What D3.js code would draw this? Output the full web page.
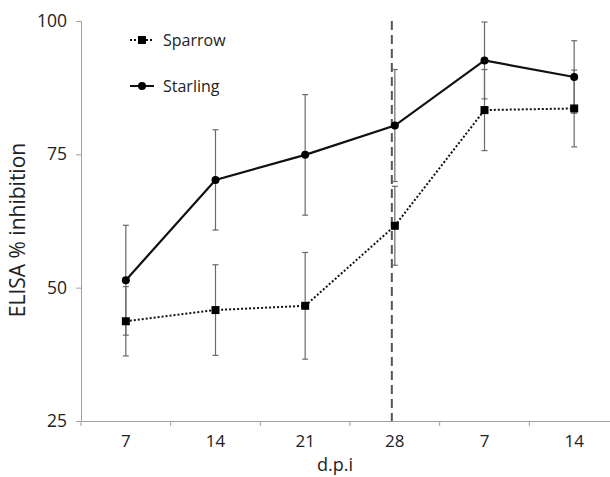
<!DOCTYPE html>
<html><head><meta charset="utf-8">
<script src="https://cdn.jsdelivr.net/npm/d3@7"></script>
<style>body{margin:0;background:#fff}text{font-family:"Open Sans",sans-serif}</style>
</head><body><svg id="c" width="610" height="477"></svg>
<script>
const categories = ["7","14","21","28","7","14"];
const sparrow = [43.7, 45.8, 46.6, 61.6, 83.3, 83.6];
const sparrowErr = [6.5, 8.5, 10.0, 7.4, 7.6, 7.2];
const starling = [51.4, 70.2, 74.9, 80.4, 92.6, 89.5];
const starlingErr = [10.3, 9.4, 11.3, 10.5, 7.2, 6.8];
const yTicks = [25, 50, 75, 100];
const markerIndex = 3; // dashed line at 28 d.p.i

const svg = d3.select("#c");
const m = {l:81, t:21, r:-9, b:56};
const W = 610 - m.l - m.r, H = 477 - m.t - m.b;
const g = svg.append("g").attr("transform",`translate(${m.l},${m.t})`);
const idx = categories.map((d,i)=>i);
const x = d3.scaleBand().domain(idx).range([0,W]);
const y = d3.scaleLinear().domain([25,100]).range([H,0]);
const cx = i => x(i) + x.bandwidth()/2;

// axes
const ya = g.append("g").call(d3.axisLeft(y).tickValues(yTicks).tickSize(5).tickPadding(9));
ya.select(".domain").attr("stroke","#a0a0a0");
ya.selectAll(".tick line").attr("stroke","#a0a0a0");
ya.selectAll("text").attr("font-size",17.5).attr("fill","#222");
const xa = g.append("g").attr("transform",`translate(0,${H})`)
  .call(d3.axisBottom(x).tickFormat(i=>categories[i]).tickSize(0).tickPadding(14));
xa.select(".domain").attr("stroke","#a0a0a0");
xa.selectAll("text").attr("font-size",17).attr("fill","#222");
// band boundary ticks
g.append("g").selectAll("line").data(d3.range(categories.length+1)).join("line")
  .attr("x1",i=>i*x.bandwidth()).attr("x2",i=>i*x.bandwidth())
  .attr("y1",H).attr("y2",H+5).attr("stroke","#a0a0a0");

svg.append("text").attr("transform",`translate(25,${m.t+H/2+9}) rotate(-90)`)
  .attr("text-anchor","middle").attr("font-size",21).attr("fill","#222").text("ELISA % inhibition");
svg.append("text").attr("x",m.l + x.bandwidth()*3 - 15).attr("y",471)
  .attr("text-anchor","middle").attr("font-size",18).attr("fill","#222").text("d.p.i");

// dashed line
g.append("line").attr("x1",cx(markerIndex)-3).attr("x2",cx(markerIndex)-3)
  .attr("y1",y(100)).attr("y2",H).attr("stroke","#555").attr("stroke-width",2)
  .attr("stroke-dasharray","9,5");

// error bars
function errs(vals, e){
  const eg = g.append("g").attr("stroke","#6a6a6a").attr("stroke-width",1.2);
  vals.forEach((v,i)=>{
    const X = cx(i);
    eg.append("line").attr("x1",X).attr("x2",X).attr("y1",y(v-e[i])).attr("y2",y(v+e[i]));
    [v-e[i], v+e[i]].forEach(w=>eg.append("line").attr("x1",X-3).attr("x2",X+3).attr("y1",y(w)).attr("y2",y(w)));
  });
}
errs(starling, starlingErr);
errs(sparrow, sparrowErr);

const line = d3.line().x((d,i)=>cx(i)).y(d=>y(d));
g.append("path").datum(sparrow).attr("d",line).attr("fill","none").attr("stroke","#111")
  .attr("stroke-width",2).attr("stroke-dasharray","2,2");
g.append("path").datum(starling).attr("d",line).attr("fill","none").attr("stroke","#111")
  .attr("stroke-width",2.2);
g.selectAll(".sq").data(sparrow).join("rect").attr("x",(d,i)=>cx(i)-4).attr("y",d=>y(d)-4)
  .attr("width",8).attr("height",8).attr("fill","#000");
g.selectAll(".ci").data(starling).join("circle").attr("cx",(d,i)=>cx(i)).attr("cy",d=>y(d))
  .attr("r",4).attr("fill","#000");

// legend
const lg = svg.append("g");
const leg = [{n:"Sparrow",dash:"2,2",sym:"sq",yy:40},{n:"Starling",dash:null,sym:"ci",yy:86}];
leg.forEach(d=>{
  lg.append("line").attr("x1",130).attr("x2",154).attr("y1",d.yy).attr("y2",d.yy)
    .attr("stroke","#111").attr("stroke-width",2).attr("stroke-dasharray",d.dash);
  if(d.sym==="sq") lg.append("rect").attr("x",138).attr("y",d.yy-4).attr("width",8).attr("height",8);
  else lg.append("circle").attr("cx",142).attr("cy",d.yy).attr("r",4);
  lg.append("text").attr("x",163).attr("y",d.yy+6).attr("font-size",16).attr("fill","#222").text(d.n);
});
</script></body></html>
